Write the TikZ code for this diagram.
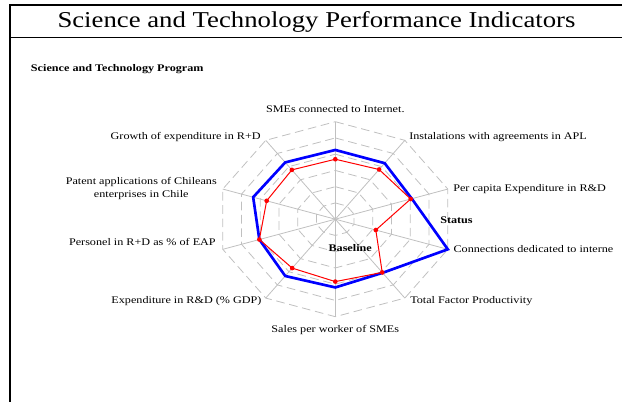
\documentclass[tikz,border=0pt]{standalone}
\usepackage{fontspec}
\setmainfont{Liberation Serif}
\newfontfamily\labfont{Liberation Serif}[FakeStretch=1.2]
\newfontfamily\ttlfont{Liberation Serif}[FakeStretch=1.18]
\usetikzlibrary{calc}
\definecolor{gridgray}{RGB}{192,192,192}
\definecolor{serblue}{RGB}{0,0,255}
\definecolor{serred}{RGB}{255,0,0}
\tikzset{
  frameline/.style={line width=1.5pt, black},
  axisline/.style={gridgray, line width=0.6pt},
  ringline/.style={gridgray, line width=0.6pt, dash pattern=on 6.5pt off 3.5pt},
  blueline/.style={serblue, line width=2pt, line join=miter},
  redline/.style={serred, line width=0.75pt},
  reddot/.style={serred},
  lab/.style={font=\labfont\fontsize{7.6}{9.5}\selectfont, inner sep=0pt},
  blab/.style={font=\labfont\bfseries\fontsize{7.6}{9.5}\selectfont, inner sep=0pt},
}
\begin{document}
\begin{tikzpicture}[x=0.75pt,y=-0.75pt]
\useasboundingbox (0,0) rectangle (622,402);
% frame
\draw[frameline] (10,402) -- (10,5) -- (622,5);
\draw[black, line width=1.1pt] (10,37.5) -- (622,37.5);
\node[font=\ttlfont\fontsize{17}{20}\selectfont, inner sep=0pt] (title) at (316.5,22) {Science and Technology Performance Indicators};
% radar geometry
\coordinate (c) at (335.3,219.2);
\foreach \i in {0,...,9}{
  \coordinate (ax\i) at ({335.3+118.3*cos(90-36*\i)},{219.2-97.5*sin(90-36*\i)});
}
\foreach \k in {1,...,6}{
  \draw[ringline] ($(c)!\k/6!(ax0)$) \foreach \i in {1,...,9}{ -- ($(c)!\k/6!(ax\i)$)} -- cycle;
}
\foreach \i in {0,...,9}{ \draw[axisline] (c) -- (ax\i); }
% data
\foreach \v [count=\i from 0] in {0.71,0.71,0.68,1.0,0.68,0.70,0.72,0.675,0.73,0.72}{
  \coordinate (b\i) at ($(c)!\v!(ax\i)$);
}
\foreach \v [count=\i from 0] in {0.615,0.63,0.67,0.36,0.675,0.64,0.62,0.675,0.61,0.625}{
  \coordinate (r\i) at ($(c)!\v!(ax\i)$);
}
\draw[blueline] (b0) -- (b1) -- (b2) -- (b3) -- (b4) -- (b5) -- (b6) -- (b7) -- (b8) -- (b9) -- cycle;
\draw[redline] (r0) -- (r1) -- (r2) -- (r3) -- (r4) -- (r5) -- (r6) -- (r7) -- (r8) -- (r9) -- cycle;
\foreach \i in {0,...,9}{ \fill[reddot] (r\i) circle (1.75pt); }
% labels
\node[lab] (l0) at (335.3,109.3) {SMEs connected to Internet.};
\node[lab,anchor=west] (l1) at (409,137.3) {Instalations with agreements in APL};
\node[lab,anchor=west] (l2) at (453,189) {Per capita Expenditure in R\&D};
\node[lab,anchor=west] (l3) at (453.3,249) {Connections dedicated to interne};
\node[lab,anchor=west] (l4) at (410,301) {Total Factor Productivity};
\node[lab] (l5) at (335.3,330) {Sales per worker of SMEs};
\node[lab,anchor=east] (l6) at (261.7,301) {Expenditure in R\&D (\% GDP)};
\node[lab,anchor=east] (l7) at (216,242) {Personel in R+D as \% of EAP};
\node[lab,anchor=east,align=center] (l8) at (217,188.5) {Patent applications of Chileans\\enterprises in Chile};
\node[lab,anchor=east] (l9) at (261,137.3) {Growth of expenditure in R+D};
\node[blab,anchor=west] (status) at (440,220) {Status};
\node[blab,anchor=west] (base) at (328.3,247.7) {Baseline};
\node[blab,anchor=west] (prog) at (30.7,69) {Science and Technology Program};
\end{tikzpicture}
\end{document}
